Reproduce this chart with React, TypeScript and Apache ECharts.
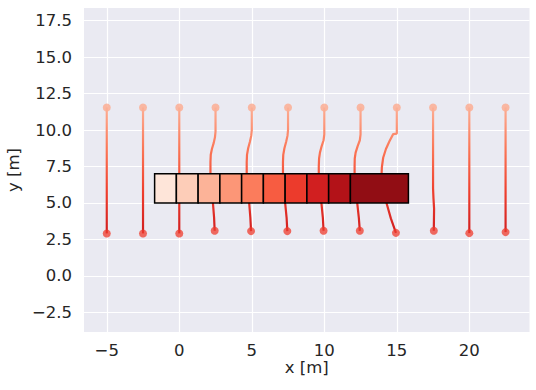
import React, { useEffect, useRef } from "react";
import * as echarts from "echarts";

// ---- data ----
const xTicks = [-5, 0, 5, 10, 15, 20];
const yTicks = [-2.5, 0, 2.5, 5, 7.5, 10, 12.5, 15, 17.5];
const xRange = [-6.57, 24.15];
const yRange = [-3.85, 18.37];

const traj1 = [[-5, 11.55], [-5, 2.91]];
const traj2 = [[-2.5, 11.55], [-2.5, 2.91]];
const traj3 = [[0, 11.55], [0, 2.91]];
const traj4 = [[2.5, 11.55], [2.5, 9.9], [2.46, 9.5], [2.37, 9.1], [2.25, 8.7], [2.17, 8.3], [2.15, 7.8], [2.15, 7.0], [2.2, 6.0], [2.32, 5.0], [2.4, 4.0], [2.44, 3.09]];
const traj5 = [[5, 11.55], [5, 10.0], [4.96, 9.6], [4.87, 9.2], [4.75, 8.75], [4.67, 8.3], [4.65, 7.8], [4.65, 7.0], [4.7, 6.0], [4.82, 5.0], [4.9, 4.0], [4.95, 3.07]];
const traj6 = [[7.5, 11.55], [7.5, 10.0], [7.46, 9.6], [7.37, 9.2], [7.25, 8.75], [7.17, 8.3], [7.15, 7.8], [7.15, 7.0], [7.2, 6.0], [7.3, 5.0], [7.4, 4.0], [7.45, 3.07]];
const traj7 = [[10, 11.55], [10, 9.7], [9.95, 9.3], [9.82, 8.9], [9.7, 8.45], [9.64, 8.05], [9.62, 7.5], [9.62, 7.0], [9.68, 6.0], [9.8, 5.0], [9.9, 4.0], [9.95, 3.09]];
const traj8 = [[12.5, 11.55], [12.5, 9.7], [12.45, 9.3], [12.3, 8.9], [12.16, 8.45], [12.1, 8.05], [12.09, 7.5], [12.09, 7.0], [12.16, 6.0], [12.27, 5.0], [12.38, 4.0], [12.45, 3.09]];
const traj9 = [[15, 11.55], [15, 9.76], [14.75, 9.72], [14.5, 9.25], [14.25, 8.7], [14.06, 8.1], [13.97, 7.45], [13.95, 7.0], [14.05, 6.0], [14.29, 5.0], [14.59, 3.94], [14.94, 2.95]];
const traj10 = [[17.5, 11.55], [17.5, 6.0], [17.53, 5.3], [17.57, 4.6], [17.56, 3.8], [17.55, 3.09]];
const traj11 = [[20, 11.55], [20, 2.93]];
const traj12 = [[22.5, 11.55], [22.5, 3.0]];
const trajectories = [traj1, traj2, traj3, traj4, traj5, traj6, traj7, traj8, traj9, traj10, traj11, traj12];

const cellEdges = [-1.7, -0.2, 1.3, 2.8, 4.3, 5.8, 7.3, 8.8, 10.3, 11.8, 15.8];
const cellBottom = 5;
const cellTop = 7;
const cellColors = ["#fee5d9", "#fdcdb8", "#fcb398", "#fc9677", "#fb7c5c", "#f75c41", "#ec3b2c", "#d11f20", "#b31218", "#910d14"];

const FONT = "DejaVu Sans";
const TEXT = "#262626";
const fmtX = (v: number) => (v < 0 ? "\u2212" : "") + String(Math.abs(v));
const fmtY = (v: number) => (v < 0 ? "\u2212" : "") + Math.abs(v).toFixed(1);

export default function App() {
  const ref = useRef<HTMLDivElement>(null);
  useEffect(() => {
    const chart = echarts.init(ref.current!, null, { renderer: "svg" });
    const lineSeries = trajectories.map((t) => ({
      type: "line",
      data: t,
      showSymbol: false,
      symbol: "none",
      lineStyle: { width: 2.2 },
      z: 2,
    }));
    const cells = cellColors.map((_, i) => [cellEdges[i], cellEdges[i + 1], cellBottom, cellTop]);
    chart.setOption({
      animation: false,
      backgroundColor: "#ffffff",
      grid: {
        left: 84,
        right: 6.5,
        top: 8,
        bottom: 58,
        show: true,
        backgroundColor: "#EAEAF2",
        borderWidth: 0,
        containLabel: false,
        outerBoundsMode: "none",
      },
      xAxis: {
        type: "value",
        min: xRange[0],
        max: xRange[1],
        name: "x [m]",
        nameLocation: "middle",
        nameGap: 28,
        nameMoveOverlap: false,
        nameTextStyle: { fontFamily: FONT, fontSize: 16.5, color: TEXT, lineHeight: 14 },
        axisLine: { show: false },
        axisTick: { show: false, customValues: xTicks },
        axisLabel: {
          customValues: xTicks,
          formatter: fmtX,
          fontFamily: FONT,
          fontSize: 16.5,
          lineHeight: 14,
          color: TEXT,
          margin: 11,
        },
        splitLine: { show: true, lineStyle: { color: "#ffffff", width: 1.2 } },
      },
      yAxis: {
        type: "value",
        min: yRange[0],
        max: yRange[1],
        name: "y [m]",
        nameLocation: "middle",
        nameGap: 62,
        nameMoveOverlap: false,
        nameTextStyle: { fontFamily: FONT, fontSize: 16.5, color: TEXT },
        axisLine: { show: false },
        axisTick: { show: false, customValues: yTicks },
        axisLabel: {
          customValues: yTicks,
          formatter: fmtY,
          fontFamily: FONT,
          fontSize: 16.5,
          color: TEXT,
          margin: 12,
        },
        splitLine: { show: true, lineStyle: { color: "#ffffff", width: 1.2 } },
      },
      visualMap: {
        type: "continuous",
        show: false,
        dimension: 1,
        min: 2.9,
        max: 11.55,
        seriesIndex: trajectories.map((_, i) => i),
        inRange: { color: ["#d01d1f", "#ef3f2e", "#fb7656", "#fcae94"] },
      },
      series: [
        ...lineSeries,
        {
          type: "scatter",
          data: trajectories.map((t) => t[0]),
          symbolSize: 8,
          itemStyle: { color: "#fcae94", opacity: 0.85 },
          z: 3,
        },
        {
          type: "scatter",
          data: trajectories.map((t) => t[t.length - 1]),
          symbolSize: 8,
          itemStyle: { color: "#ef3b2c", opacity: 0.75 },
          z: 3,
        },
        {
          type: "custom",
          data: cells,
          z: 5,
          renderItem: (params: any, api: any) => {
            const p0 = api.coord([api.value(0), api.value(3)]);
            const p1 = api.coord([api.value(1), api.value(2)]);
            return {
              type: "rect",
              shape: { x: p0[0], y: p0[1], width: p1[0] - p0[0], height: p1[1] - p0[1] },
              style: { fill: cellColors[params.dataIndex], stroke: "#000000", lineWidth: 1.5 },
            };
          },
        },
      ],
    });
    return () => chart.dispose();
  }, []);
  return <div ref={ref} style={{ position: "fixed", left: 0, top: 0, width: 536, height: 390 }} />;
}
